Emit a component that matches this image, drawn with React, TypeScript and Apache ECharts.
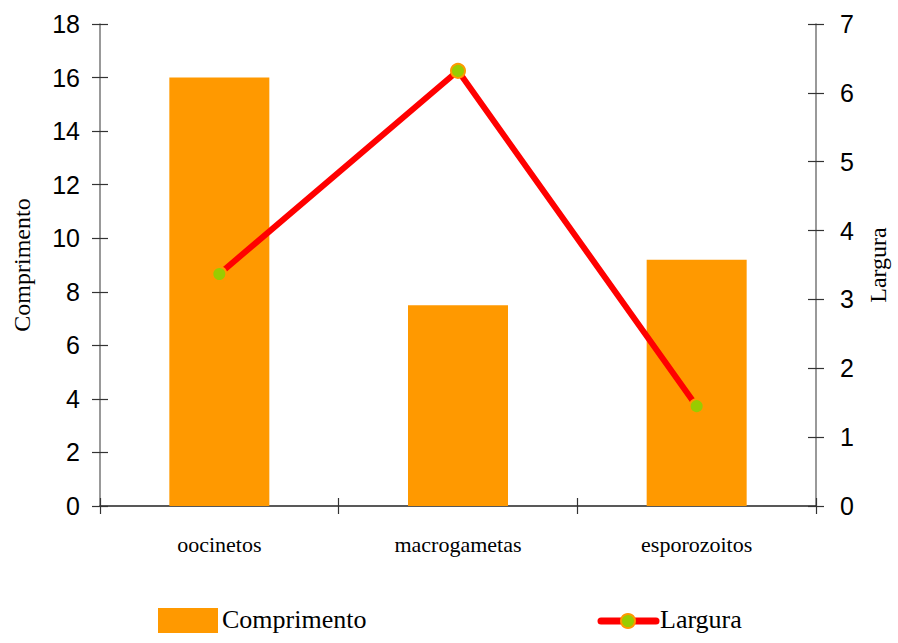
import React, { useEffect, useRef } from "react";
import * as echarts from "echarts";

const categories = ["oocinetos", "macrogametas", "esporozoitos"];
const comprimento = [16.0, 7.5, 9.2];
const largura = [3.37, 6.32, 1.45];
const leftTicks = { min: 0, max: 18, interval: 2 };
const rightTicks = { min: 0, max: 7, interval: 1 };

const SERIF = "'Liberation Serif', 'Times New Roman', serif";
const SANS = "'Liberation Sans', Arial, sans-serif";

export default function App() {
  const ref = useRef<HTMLDivElement>(null);
  useEffect(() => {
    if (!ref.current) return;
    const chart = echarts.init(ref.current, null, { renderer: "svg" });
    const axisLineStyle = { color: "#777777", width: 1.5 };
    const tickStyle = { color: "#333333", width: 1.2 };
    chart.setOption({
      animation: false,
      backgroundColor: "#ffffff",
      grid: { left: 100, right: 79, top: 24, bottom: 137, containLabel: false },
      xAxis: [
        {
          type: "category",
          data: categories,
          position: "bottom",
          axisLine: { show: true, lineStyle: { color: "#222222", width: 1.5 } },
          axisTick: { show: true, inside: false, length: 8, lineStyle: tickStyle },
          axisLabel: {
            margin: 27,
            fontFamily: SERIF,
            fontSize: 22,
            color: "#000000",
          },
          splitLine: { show: false },
        },
        {
          type: "category",
          data: categories,
          position: "bottom",
          axisLine: { show: false },
          axisTick: { show: true, inside: true, length: 8, lineStyle: tickStyle },
          axisLabel: { show: false },
          splitLine: { show: false },
        },
      ],
      yAxis: [
        {
          type: "value",
          position: "left",
          ...leftTicks,
          name: "Comprimento",
          nameLocation: "middle",
          nameGap: 66,
          nameRotate: 90,
          nameTextStyle: { fontFamily: SERIF, fontSize: 24, color: "#000000" },
          axisLine: { show: true, lineStyle: axisLineStyle },
          axisTick: { show: true, inside: false, length: 8, lineStyle: tickStyle },
          axisLabel: { margin: 20, fontFamily: SANS, fontSize: 25, color: "#000000" },
          splitLine: { show: false },
        },
        {
          type: "value",
          position: "right",
          ...rightTicks,
          name: "Largura",
          nameLocation: "middle",
          nameGap: 50,
          nameRotate: 90,
          nameTextStyle: { fontFamily: SERIF, fontSize: 24, color: "#000000" },
          axisLine: { show: true, lineStyle: axisLineStyle },
          axisTick: { show: true, inside: false, length: 8, lineStyle: tickStyle },
          axisLabel: { margin: 24, fontFamily: SANS, fontSize: 25, color: "#000000" },
          splitLine: { show: false },
        },
        {
          type: "value",
          position: "left",
          ...leftTicks,
          axisLine: { show: false },
          axisTick: { show: true, inside: true, length: 8, lineStyle: tickStyle },
          axisLabel: { show: false },
          splitLine: { show: false },
        },
        {
          type: "value",
          position: "right",
          ...rightTicks,
          axisLine: { show: false },
          axisTick: { show: true, inside: true, length: 8, lineStyle: tickStyle },
          axisLabel: { show: false },
          splitLine: { show: false },
        },
      ],
      series: [
        {
          name: "Comprimento",
          type: "bar",
          xAxisIndex: 0,
          yAxisIndex: 0,
          data: comprimento,
          barWidth: 100,
          itemStyle: { color: "#FF9900" },
        },
        {
          name: "Largura",
          type: "line",
          xAxisIndex: 0,
          yAxisIndex: 1,
          data: largura,
          symbol: "circle",
          symbolSize: 14,
          lineStyle: { color: "#FF0000", width: 6 },
          itemStyle: { color: "#99CC00", borderColor: "#FF9900", borderWidth: 2 },
          z: 5,
        },
      ],
      graphic: [
        { type: "rect", left: 158, top: 608, shape: { width: 60, height: 25 }, style: { fill: "#FF9900" } },
        {
          type: "text",
          left: 222,
          top: 606,
          style: { text: "Comprimento", font: `26px ${SERIF}`, fill: "#000000" },
        },
        {
          type: "line",
          shape: { x1: 601, y1: 621, x2: 656, y2: 621 },
          style: { stroke: "#FF0000", lineWidth: 7, lineCap: "round" },
        },
        {
          type: "circle",
          shape: { cx: 628, cy: 621, r: 7 },
          style: { fill: "#99CC00", stroke: "#FF9900", lineWidth: 2 },
          z: 10,
        },
        {
          type: "text",
          left: 660,
          top: 606,
          style: { text: "Largura", font: `26px ${SERIF}`, fill: "#000000" },
        },
      ],
    });
    return () => chart.dispose();
  }, []);
  return (
    <div
      ref={ref}
      style={{ position: "absolute", left: 0, top: 0, width: 898, height: 643, background: "#fff" }}
    />
  );
}
